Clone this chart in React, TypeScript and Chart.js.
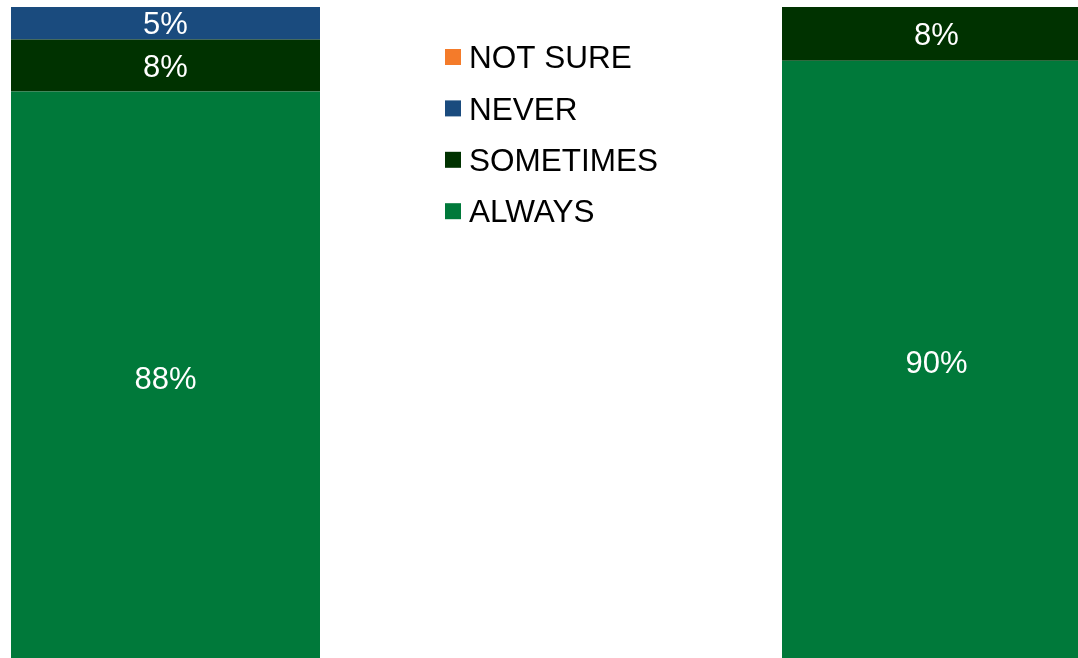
import React, { useEffect, useRef } from 'react';
import { Chart, registerables } from 'chart.js';

Chart.register(...registerables);

// ---- data ----
const categories = ['Group 1', 'Group 2'];
const seriesNames = ['ALWAYS', 'SOMETIMES', 'NEVER', 'NOT SURE'];
const always = [88, 90];
const sometimes = [8, 8];
const never = [5, 0];
const notSure = [0, 0];
const seriesColors = ['#00793A', '#003200', '#1A4B7E', '#F47B2A'];

const rawSeries = [always, sometimes, never, notSure];

// ---- layout constants ----
const OFFSET_X = 220; // canvas is shifted left so bars land where the reference has them
const CANVAS_W = 1542;
const CANVAS_H = 664;
const FONT = '"Liberation Sans", Arial, Helvetica, sans-serif';
const LABEL_SIZE = 31;
const LEGEND_SIZE = 31.5;
const LEGEND_BOX_X = 445 + OFFSET_X;
const LEGEND_TEXT_X = 469 + OFFSET_X;
const LEGEND_Y0 = 57;
const LEGEND_STEP = 51.4;
const LEGEND_BOX = 16;

const totals = categories.map((_, i) => rawSeries.reduce((s, arr) => s + arr[i], 0));

const dataLabelPlugin = {
  id: 'segmentLabels',
  afterDatasetsDraw(chart: any) {
    const ctx = chart.ctx;
    ctx.save();
    ctx.fillStyle = '#FFFFFF';
    ctx.font = `${LABEL_SIZE}px ${FONT}`;
    ctx.textAlign = 'center';
    ctx.textBaseline = 'alphabetic';
    chart.data.datasets.forEach((ds: any, di: number) => {
      const meta = chart.getDatasetMeta(di);
      meta.data.forEach((el: any, i: number) => {
        const raw = rawSeries[di][i];
        if (!raw) return;
        const p = el.getProps(['x', 'y', 'base'], true);
        const cy = (p.y + p.base) / 2;
        ctx.fillText(`${raw}%`, p.x, cy + LABEL_SIZE * 0.358);
      });
    });
    ctx.restore();
  },
};

const legendPlugin = {
  id: 'insideLegend',
  afterDraw(chart: any) {
    const ctx = chart.ctx;
    ctx.save();
    ctx.font = `${LEGEND_SIZE}px ${FONT}`;
    ctx.textAlign = 'left';
    ctx.textBaseline = 'alphabetic';
    const items = chart.data.datasets.map((ds: any) => ({ label: ds.label, color: ds.backgroundColor })).reverse();
    items.forEach((it: any, k: number) => {
      const cy = LEGEND_Y0 + k * LEGEND_STEP;
      ctx.fillStyle = it.color;
      ctx.fillRect(LEGEND_BOX_X, cy - LEGEND_BOX / 2, LEGEND_BOX, LEGEND_BOX);
      ctx.fillStyle = '#000000';
      ctx.fillText(it.label, LEGEND_TEXT_X, cy + LEGEND_SIZE * 0.358);
    });
    ctx.restore();
  },
};

export default function App() {
  const canvasRef = useRef<HTMLCanvasElement | null>(null);

  useEffect(() => {
    if (!canvasRef.current) return;
    const chart = new Chart(canvasRef.current, {
      type: 'bar',
      data: {
        labels: categories,
        datasets: rawSeries.map((arr, di) => ({
          label: seriesNames[di],
          data: arr.map((v, i) => (totals[i] ? (v / totals[i]) * 100 : 0)),
          backgroundColor: seriesColors[di],
          borderWidth: 0,
          barPercentage: 309 / 771,
          categoryPercentage: 1,
        })),
      },
      options: {
        responsive: false,
        animation: false,
        devicePixelRatio: 1,
        layout: { padding: { top: 7, bottom: 0, left: 0, right: 0 } },
        plugins: {
          legend: { display: false },
          tooltip: { enabled: false },
          title: { display: false },
        },
        scales: {
          x: { stacked: true, display: false, offset: true, grid: { display: false } },
          y: { stacked: true, display: false, min: 0, max: 100, grid: { display: false } },
        },
      },
      plugins: [dataLabelPlugin, legendPlugin],
    });
    return () => chart.destroy();
  }, []);

  return (
    <div style={{ position: 'fixed', left: 0, top: 0, width: 1078, height: 658, overflow: 'hidden', background: '#FFFFFF' }}>
      <canvas
        ref={canvasRef}
        width={CANVAS_W}
        height={CANVAS_H}
        style={{ position: 'absolute', left: -OFFSET_X, top: 0, width: CANVAS_W, height: CANVAS_H }}
      />
    </div>
  );
}
